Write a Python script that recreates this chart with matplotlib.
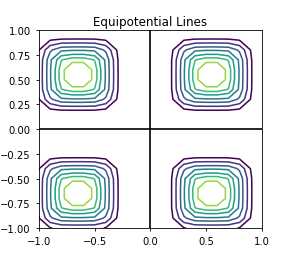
import numpy as np
import matplotlib
matplotlib.use("Agg")
import matplotlib.pyplot as plt

x_vals = np.linspace(-1, 1, 21)
y_vals = np.linspace(-1, 1, 21)
half_period = 1.2
x_zero = -0.05
y_zero = -0.05
levels = [0.24, 0.28, 0.32, 0.355, 0.395, 0.43, 0.475]
color_top = 0.52

X, Y = np.meshgrid(x_vals, y_vals)
dx = np.mod(X - x_zero, half_period) - half_period / 2
dy = np.mod(Y - y_zero, half_period) - half_period / 2
p = 5
r = (np.abs(dx) ** p + np.abs(dy) ** p) ** (1 / p)
V = half_period / 2 - r

fig = plt.figure(figsize=(3.02, 2.55), dpi=100)
ax = fig.add_axes([0.129, 0.102, 0.738, 0.776])
ax.contour(X, Y, V, levels=levels, cmap="viridis", vmin=levels[0],
           vmax=color_top, linewidths=1.1)
ax.axhline(0, color="black", lw=1.2)
ax.axvline(0, color="black", lw=1.2)
ax.set_xlim(-1, 1)
ax.set_ylim(-1, 1)
ax.set_xticks([-1.0, -0.5, 0.0, 0.5, 1.0])
ax.set_yticks([-1.0, -0.75, -0.5, -0.25, 0.0, 0.25, 0.5, 0.75, 1.0])
ax.tick_params(labelsize=7.2, length=2.5, width=0.6)
for s in ax.spines.values():
    s.set_linewidth(0.6)
ax.set_title("Equipotential Lines", fontsize=8.6, pad=4)
fig.savefig("out.png", dpi=100)
